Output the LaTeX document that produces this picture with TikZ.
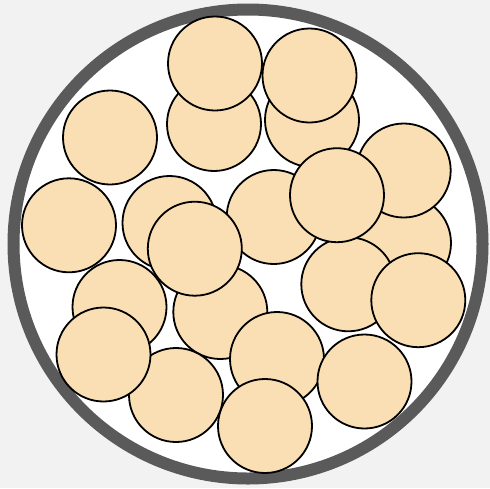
\documentclass[tikz,border=0pt]{standalone}
\usepackage{xcolor}
\definecolor{PanelGray}{HTML}{F2F2F2}
\definecolor{TubeGray}{HTML}{5A5A5A}
\definecolor{Pellet}{HTML}{F9DFB3}
\tikzset{
  % outer wall and packed pellets
  tube/.style={circle,draw=TubeGray,fill=white,line width=12pt,minimum size=469pt,inner sep=0,outer sep=0},
  pellet/.style={circle,draw=black,fill=Pellet,line width=1.8pt,minimum size=94pt,inner sep=0,outer sep=0}
}

\begin{document}
\begin{tikzpicture}[x=1pt,y=-1pt]
    \fill[PanelGray] (0,0) rectangle (490,488);
    \node[tube] (tube) at (248,244) {};
    % pellets, drawn back to front
    \foreach \n/\px/\py in {1/214/124, 2/215/63.5, 3/312/120, 4/309.5/75.5, 5/110/137.5,
        6/69/225.3, 7/404/243, 8/403.7/170.5, 9/273.7/217, 10/348.3/284.3,
        11/337/195.2, 12/418.3/300.2, 13/169.5/223, 14/220.3/312, 15/194.8/248.7,
        16/119.5/307, 17/277/359, 18/364.5/381.5, 19/265/426, 20/176/395, 21/103.5/354.5}
      \node[pellet] (p\n) at (\px,\py) {};
\end{tikzpicture}
\end{document}
